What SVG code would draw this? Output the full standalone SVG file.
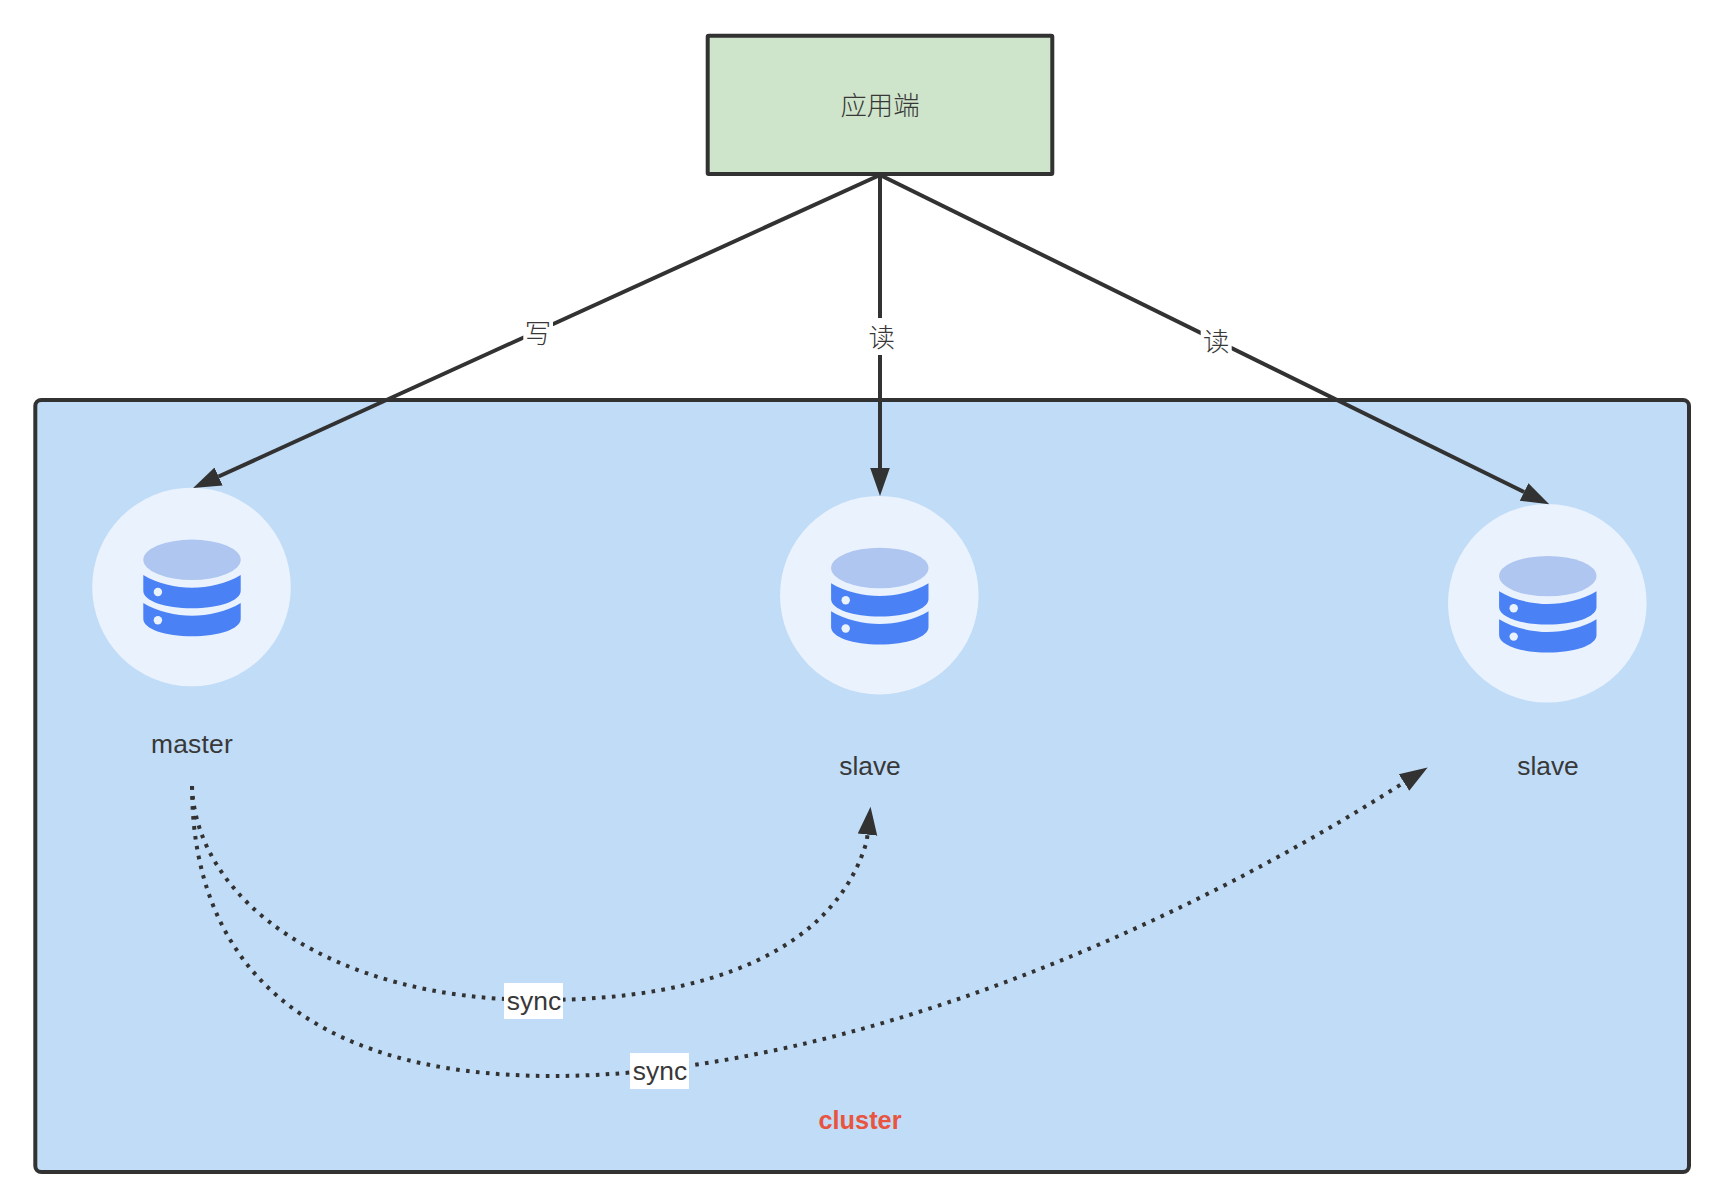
<svg xmlns="http://www.w3.org/2000/svg" xmlns:xlink="http://www.w3.org/1999/xlink" width="1726" height="1200" viewBox="0 0 1726 1200">
<style>
text{font-family:"Liberation Sans","Noto Sans CJK SC",sans-serif;font-size:26.4px;fill:#383838;text-anchor:middle}
.cjk{font-family:"Noto Sans CJK SC","Noto Sans",sans-serif;font-weight:300}
.solid{fill:none;stroke:#323232;stroke-width:4}
.dotted{fill:none;stroke:#323232;stroke-width:4}
.dotted{stroke-dasharray:3.6 6.4}
.bg{fill:#fff}
</style>
<defs>
<marker id="arrow" markerUnits="userSpaceOnUse" markerWidth="30" markerHeight="24" refX="0" refY="12" orient="auto">
<path d="M0,2.2 L28,12 L0,21.8 Z" fill="#323232"/>
</marker>
<g id="db">
<circle r="99.3" fill="#eaf2fe"/>
<ellipse cx="0.5" cy="-27.2" rx="48.7" ry="20.2" fill="#afc6f1"/>
<g fill="#4a82f6">
<path d="M-48.2,-12 C-35,-3.5 -15,0.7 0.5,0.7 S36,-3.5 49.2,-12 V3.7 C49.2,14 27,21.3 0.5,21.3 S-48.2,14 -48.2,3.7 Z"/>
<path d="M-48.2,16 C-35,24.5 -15,28.7 0.5,28.7 S36,24.5 49.2,16 V31.7 C49.2,42 27,49.3 0.5,49.3 S-48.2,42 -48.2,31.7 Z"/>
</g>
<circle cx="-33.6" cy="5" r="4.2" fill="#eaf2fe"/>
<circle cx="-33.6" cy="33.3" r="4.2" fill="#eaf2fe"/>
</g>
</defs>
<g id="cluster">
<rect x="35.3" y="400" width="1653.7" height="772" rx="6" fill="#c1dcf7" stroke="#323232" stroke-width="4"/>
<text x="860" y="1129" style="fill:#e8543f;font-weight:bold;font-size:25.3px">cluster</text>
</g>
<g id="app">
<rect x="707.7" y="35.7" width="344.6" height="138.3" rx="1" fill="#cfe5cb" stroke="#323232" stroke-width="4"/>
<text class="cjk" x="880" y="115">应用端</text>
</g>
<g id="master">
<use href="#db" xlink:href="#db" x="191.5" y="587"/>
<text x="192" y="753" style="letter-spacing:.25px">master</text>
</g>
<g id="slave1">
<use href="#db" xlink:href="#db" x="879.3" y="595.2"/>
<text x="870" y="775">slave</text>
</g>
<g id="slave2">
<use href="#db" xlink:href="#db" x="1547.3" y="603.3"/>
<text x="1548" y="775">slave</text>
</g>
<g id="connectors">
<path class="solid" marker-end="url(#arrow)" d="M880,175 L218.6,476.5"/>
<path class="solid" marker-end="url(#arrow)" d="M880,175 L880,468"/>
<path class="solid" marker-end="url(#arrow)" d="M880,175 L1524.1,492"/>
<path class="dotted" marker-end="url(#arrow)" d="M192,786 C196,900 330,1000 540,1000 C710,1000 835,950 866.8,841 L867.5,834.6"/>
<path class="dotted" marker-end="url(#arrow)" d="M192,786 C192,960 300,1076 553,1076 C780,1076 1098,977 1404,782.5"/>
<rect class="bg" x="523.3" y="314" width="29.7" height="37"/>
<text class="cjk" x="538" y="343">写</text>
<rect class="bg" x="866" y="318" width="30" height="37"/>
<text class="cjk" x="881.7" y="346.5">读</text>
<rect class="bg" x="1200.7" y="322" width="31" height="37"/>
<text class="cjk" x="1216.3" y="350.5">读</text>
<rect class="bg" x="504" y="983" width="59" height="36"/>
<text x="534" y="1010">sync</text>
<rect class="bg" x="630" y="1053" width="59" height="36"/>
<text x="660" y="1080">sync</text>
</g>
</svg>
